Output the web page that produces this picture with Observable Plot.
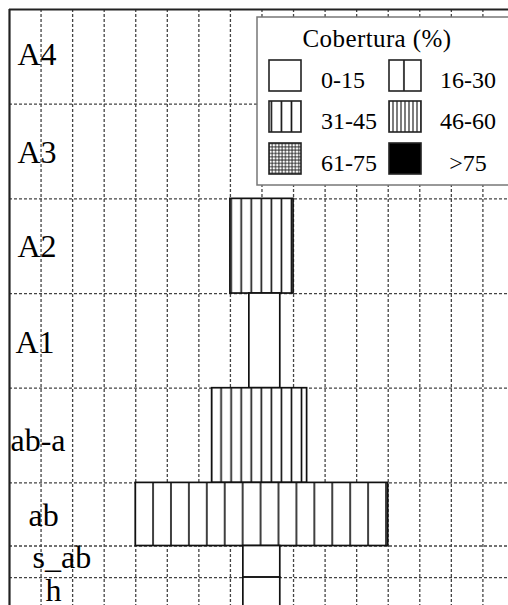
<!DOCTYPE html>
<html><head><meta charset="utf-8">
<script src="https://cdn.jsdelivr.net/npm/d3@7"></script>
<script src="https://cdn.jsdelivr.net/npm/@observablehq/plot@0.6"></script>
<style>
body{margin:0;background:#fff;}
svg{overflow:hidden;display:block}
svg text{font-family:'Liberation Serif','Tinos','DejaVu Serif','Noto Serif',serif !important;}
</style>
</head><body><div id="chart"></div>
<script>
// ---- data ----
const strata = ["A4", "A3", "A2", "A1", "ab-a", "ab", "s_ab", "h"];
const strataHeight = [3, 3, 3, 3, 3, 2, 1, 1];
const barLeft = [null, null, 7, 7.6, 6.42, 4, 7.41, 7.41];
const barRight = [null, null, 9, 8.58, 9.43, 12, 8.58, 8.58];
const coverClass = [null, null, 2, 0, 2, 1, 0, 0];
const classLabels = ["0-15", "16-30", "31-45", "46-60", "61-75", ">75"];
const gridX = d3.range(1, 16);
const legendTitle = "Cobertura (%)";

// ---- layout ----
const UNIT = 31.56;
const labelDx = [8, 8, 8, 6, 1, 19, 23, 36];
const labelDy = [8, 11, 11, 12, 15, 12, 6, 8];

const tops = [];
let acc = 0;
strataHeight.forEach(h => { tops.push(acc); acc += h; });
const total = acc;
const boundaries = tops.slice(1);
const rows = strata.map((s, i) => ({
  s, top: tops[i], bottom: tops[i] + strataHeight[i],
  mid: tops[i] + strataHeight[i] / 2,
  left: barLeft[i], right: barRight[i], cls: coverClass[i], i
}));
const bars = rows.filter(d => d.cls != null);

const plot = Plot.plot({
  width: 508, height: 605,
  x: {domain: [0, 16], range: [9, 9 + 16 * UNIT], axis: null},
  y: {domain: [0, total], range: [9, 9 + total * UNIT], axis: null},
  color: {type: "identity"},
  style: {background: "#fff", overflow: "hidden"},
  marks: [
    Plot.ruleX(gridX, {y1: 0, y2: total, stroke: "#444", strokeWidth: 1.3, strokeDasharray: "3,2"}),
    Plot.ruleY(boundaries, {x1: 0, x2: 16, stroke: "#444", strokeWidth: 1.3, strokeDasharray: "3,2"}),
    Plot.rect(bars, {x1: "left", x2: "right", y1: "top", y2: "bottom",
      fill: d => `url(#pat${d.cls})`, stroke: "#111", strokeWidth: 1.7}),
    Plot.ruleY([0], {x1: 0, x2: 16, stroke: "#222", strokeWidth: 2.2}),
    Plot.ruleX([0], {y1: 0, y2: total, stroke: "#222", strokeWidth: 2.2}),
    Plot.text(rows, {x: d => labelDx[d.i] / UNIT, y: d => d.mid + labelDy[d.i] / UNIT,
      text: "s", textAnchor: "start", lineAnchor: "bottom", fontSize: 32, fill: "#000"})
  ]
});
document.getElementById("chart").appendChild(plot);

// ---- patterns ----
const svg = d3.select(plot);
const defs = svg.insert("defs", ":first-child");
function solid(id, c) {
  const p = defs.append("pattern").attr("id", id).attr("patternUnits", "userSpaceOnUse")
    .attr("width", 10).attr("height", 10);
  p.append("rect").attr("width", 10).attr("height", 10).attr("fill", c);
}
function vpat(id, w, off, sw) {
  const p = defs.append("pattern").attr("id", id).attr("patternUnits", "userSpaceOnUse")
    .attr("width", w).attr("height", 10).attr("x", off - w / 2);
  p.append("rect").attr("width", w).attr("height", 10).attr("fill", "#fff");
  p.append("line").attr("x1", w / 2).attr("x2", w / 2).attr("y1", -1).attr("y2", 11)
    .attr("stroke", "#111").attr("stroke-width", sw);
}
function gpat(id, w, sw) {
  const p = defs.append("pattern").attr("id", id).attr("patternUnits", "userSpaceOnUse")
    .attr("width", w).attr("height", w);
  p.append("rect").attr("width", w).attr("height", w).attr("fill", "#fff");
  p.append("line").attr("x1", w / 2).attr("x2", w / 2).attr("y1", -1).attr("y2", w + 1)
    .attr("stroke", "#222").attr("stroke-width", sw);
  p.append("line").attr("y1", w / 2).attr("y2", w / 2).attr("x1", -1).attr("x2", w + 1)
    .attr("stroke", "#222").attr("stroke-width", sw);
}
solid("pat0", "#fff");
vpat("pat1", 17.92, 9.7, 1.6);
vpat("pat2", 10.05, 0, 1.6);
vpat("pat3", 4, 1, 1.1);
gpat("pat4", 3.3, 0.9);
solid("pat5", "#000");

// ---- legend ----
const lg = svg.append("g");
lg.append("rect").attr("x", 257).attr("y", 17).attr("width", 300).attr("height", 168)
  .attr("fill", "#fff").attr("stroke", "#777").attr("stroke-width", 1.5);
lg.append("text").attr("x", 377).attr("y", 47).attr("text-anchor", "middle")
  .attr("font-size", 25).attr("letter-spacing", 0.4).text(legendTitle);
const swX = [269, 389], swY = [60, 101, 143];
classLabels.forEach((lab, i) => {
  const c = i % 2, r = Math.floor(i / 2);
  lg.append("rect").attr("x", swX[c]).attr("y", swY[r]).attr("width", 32).attr("height", 31)
    .attr("fill", `url(#pat${i})`).attr("stroke", "#222").attr("stroke-width", 1.6);
  lg.append("text").attr("x", c === 0 ? 321 : 468).attr("y", swY[r] + 28)
    .attr("text-anchor", c === 0 ? "start" : "middle").attr("font-size", 24).text(lab);
});
</script></body></html>
